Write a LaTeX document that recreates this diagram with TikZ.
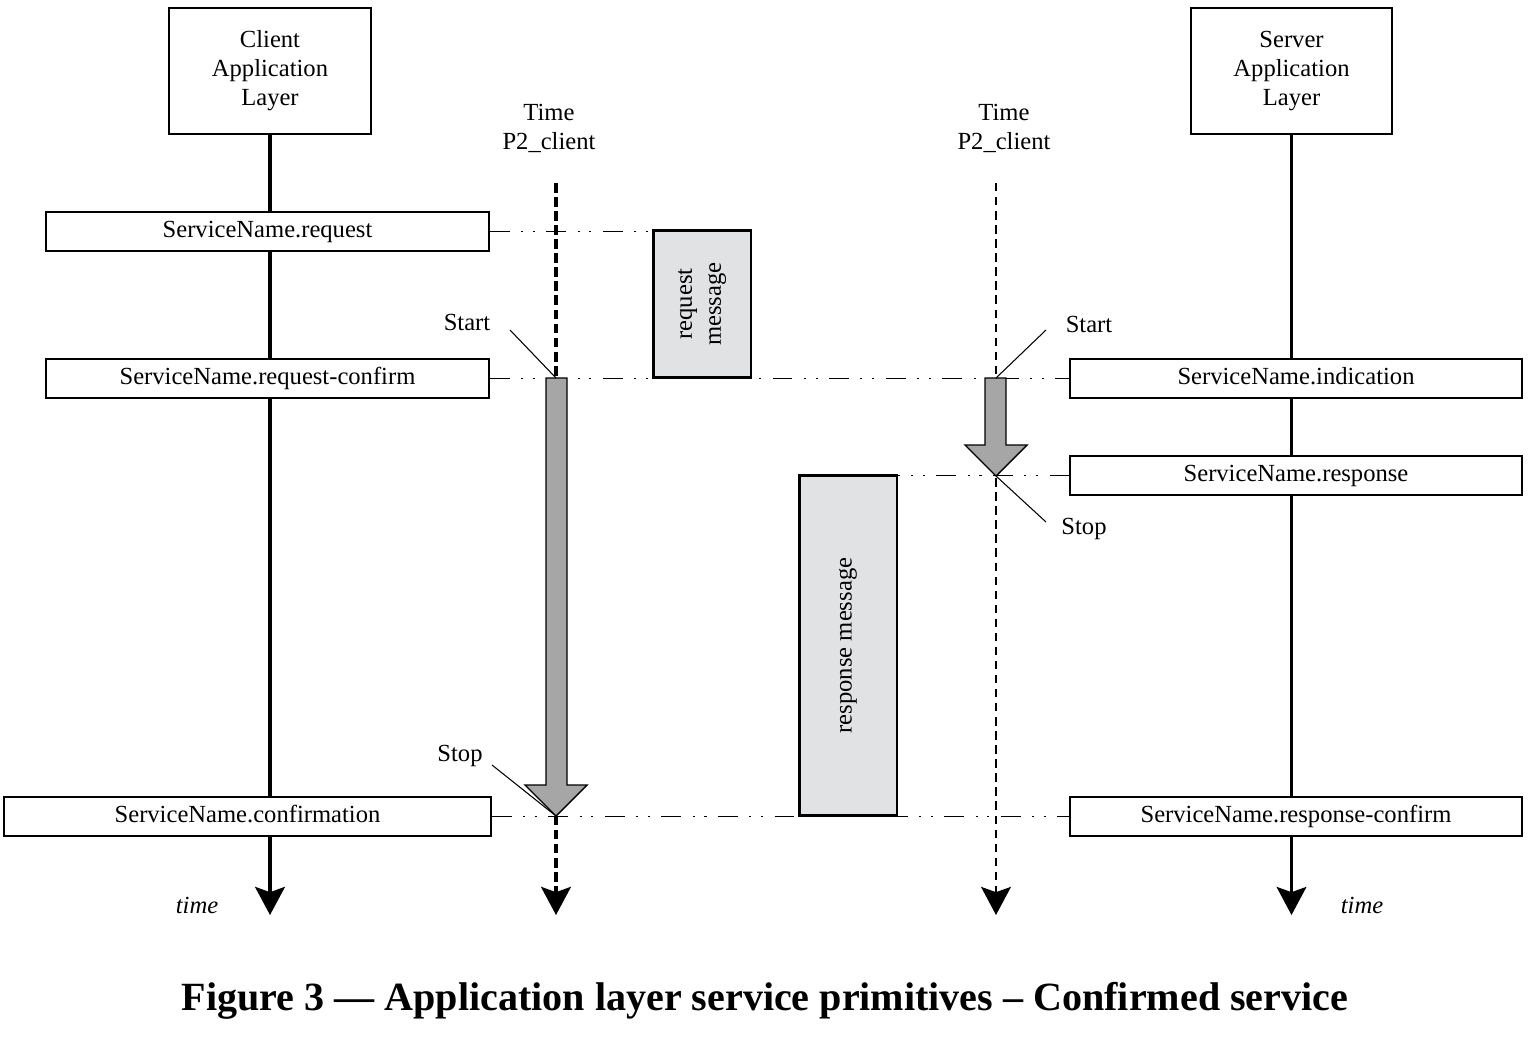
\documentclass[tikz,border=0pt]{standalone}
\usepackage{fontspec}
\setmainfont{Liberation Serif}
\usetikzlibrary{arrows.meta,positioning}
\definecolor{msggray}{HTML}{E1E2E3}
\definecolor{arrowgray}{HTML}{A6A6A6}

\begin{document}
\begin{tikzpicture}[
		x=0.02cm, y=-0.02cm,
		>=Stealth,
		every node/.style = {font=\fontsize{14}{16.5}\selectfont},
		layer/.style = {draw, line width=0.9pt, fill=white, minimum width=4.03cm, minimum height=2.52cm, align=center, inner sep=0pt},
		prim/.style = {draw, line width=0.8pt, fill=white, minimum height=0.78cm, inner sep=0pt, text height=9.6pt, text depth=2.4pt},
		msg/.style = {draw, line width=1.7pt, fill=msggray, rotate=90, minimum height=1.96cm, align=center, inner sep=0pt},
		lifeline/.style = {-{Stealth[length=16pt, width=17pt, inset=3pt]}},
		timeline/.style = {-{Stealth[length=16pt, width=17pt, inset=3pt]}},
		dashdot/.style = {line width=0.9pt, dash pattern=on 11.3pt off 6.5pt on 1.2pt off 5.5pt on 1.2pt off 6.5pt},
		block/.style = {draw, line width=0.8pt, fill=arrowgray, line join=miter},
		pointer/.style = {line width=0.6pt}
		]
		\useasboundingbox (0,0) rectangle (1535,1038);
		
		% Layers and lifelines --------------------------------------------
		\node[layer] (client) at (270,71) {Client\\Application\\Layer};
		\node[layer] (server) at (1291.5,71) {Server\\Application\\Layer};
		\coordinate (clientend) at (270,915);
		\coordinate (serverend) at (1291.5,915);
		\draw[lifeline, line width=1.8pt] (client) -- (clientend);
		\draw[lifeline, line width=1.2pt] (server) -- (serverend);
		
		% Timers ----------------------------------------------------------
		\node[align=center] (ltime) at (549,128) {Time\\P2\_client};
		\node[align=center] (rtime) at (1004,128) {Time\\P2\_client};
		\coordinate (ltop) at (556,183);
		\coordinate (lend) at (556,915);
		\coordinate (rtop) at (996,183);
		\coordinate (rend) at (996,915);
		\draw[timeline, line width=1.8pt, dash pattern=on 5.6pt off 2.4pt] (ltop) -- (lend);
		\draw[timeline, line width=1.1pt, dash pattern=on 4.8pt off 3.2pt] (rtop) -- (rend);
		
		% Primitives ------------------------------------------------------
		\node[prim, minimum width=8.86cm] (req)     at (267.5,231.5) {ServiceName.request};
		\node[prim, minimum width=8.86cm] (reqconf) at (267.5,378.5) {ServiceName.request-confirm};
		\node[prim, minimum width=9.74cm] (conf)    at (247.5,816.5) {ServiceName.confirmation};
		\node[prim, minimum width=9.04cm] (ind)     at (1296,378.5) {ServiceName.indication};
		\node[prim, minimum width=9.04cm] (resp)    at (1296,475.5) {ServiceName.response};
		\node[prim, minimum width=9.04cm] (respconf) at (1296,816.5) {ServiceName.response-confirm};
		
		% Messages --------------------------------------------------------
		\node[msg, minimum width=2.96cm] (reqmsg)  at (702,304) {request\\message};
		\node[msg, minimum width=6.82cm] (respmsg) at (848,645.5) {response message};
		
		% Dash-dot links --------------------------------------------------
		\draw[dashdot] (req.east) -- (req.east -| reqmsg.south);
		\draw[dashdot] (reqconf.east) -- (ind.west);
		\draw[dashdot] (resp.west) -- (resp.west -| respmsg.north);
		\draw[dashdot] (conf.east) -- (respconf.west);
		
		% Timer block arrows ----------------------------------------------
		\draw[block] (546,378) -- (567,378) -- (567,785) -- (587,785) -- (556,816)
		  -- (525,785) -- (546,785) -- cycle;
		\draw[block] (985,378) -- (1006,378) -- (1006,445) -- (1027,445) -- (996,476)
		  -- (965,445) -- (985,445) -- cycle;
		
		% Start / Stop ----------------------------------------------------
		\node (lstart) at (467,322) {Start};
		\node (rstart) at (1089,324) {Start};
		\node (rstop)  at (1084,529) {Stop};
		\node (lstop)  at (460,756) {Stop};
		\coordinate (lstartpt) at (556,378);
		\coordinate (rstartpt) at (996,378);
		\coordinate (rstoppt)  at (996,476);
		\coordinate (lstoppt)  at (556,816);
		\draw[pointer] (510,330) -- (lstartpt);
		\draw[pointer] (1046,330) -- (rstartpt);
		\draw[pointer] (rstoppt) -- (1046,522);
		\draw[pointer] (492,765) -- (lstoppt);
		
		% Time labels and caption -----------------------------------------
		\node[font=\fontsize{14}{16.5}\selectfont\itshape] (ltimelbl) at (197,905) {time};
		\node[font=\fontsize{14}{16.5}\selectfont\itshape] (rtimelbl) at (1362,905) {time};
		\node[font=\fontsize{22.8}{27}\selectfont\bfseries] (caption) at (765,1001)
		  {Figure 3 — Application layer service primitives – Confirmed service};
	\end{tikzpicture}
\end{document}
